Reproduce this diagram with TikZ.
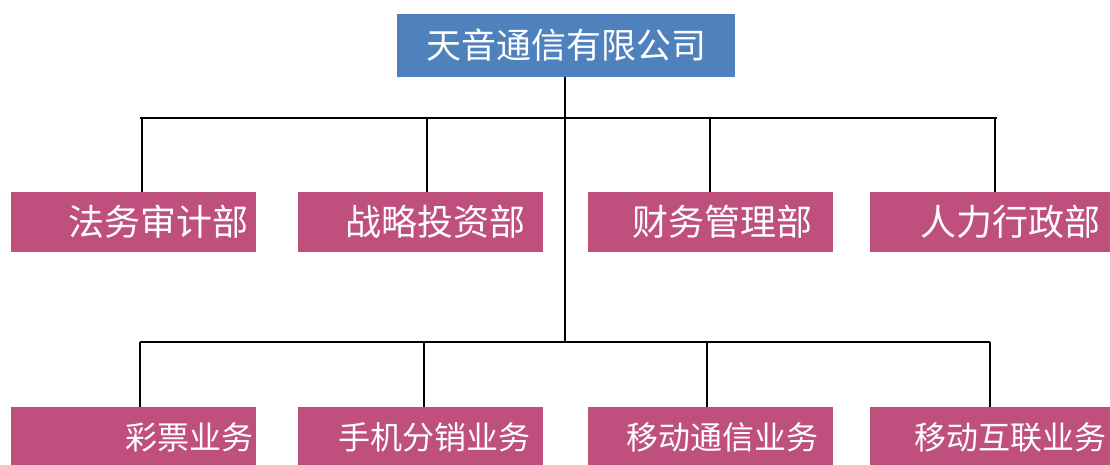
\documentclass[tikz,border=0pt]{standalone}
\usepackage{fontspec}
\newfontfamily\cjk{Noto Sans CJK SC}
\definecolor{boxpink}{RGB}{191,80,126}
\definecolor{topblue}{RGB}{79,129,189}
\begin{document}
\begin{tikzpicture}[x=1pt,y=-1pt,
  conn/.style={draw=black,line width=1.6pt},
  dept/.style={fill=boxpink,text=white,minimum width=245pt,minimum height=60pt,inner sep=0pt,font=\cjk\fontsize{36}{40}\selectfont},
  biz/.style={dept,font=\cjk\fontsize{32}{36}\selectfont},
  head/.style={fill=topblue,text=white,minimum width=338pt,minimum height=63pt,inner sep=0pt,font=\cjk\fontsize{35}{40}\selectfont}]
\useasboundingbox (0,0) rectangle (1110,465);
\clip (0,0) rectangle (1110,465);
% head
\node[head] (top) at (566,45.5) {天音通信有限公司};
% row 1
\node[dept] (d1) at (133,222) {\hspace*{50pt}法务审计部};
\node[dept] (d2) at (420,222) {\hspace*{30pt}战略投资部};
\node[dept] (d3) at (710,222) {\hspace*{24pt}财务管理部};
\node[dept] (d4) at (992,222) {\hspace*{36pt}人力行政部};
% row 2
\node[biz] (b1) at (133,437) {\hspace*{112pt}彩票业务};
\node[biz] (b2) at (420,437) {\hspace*{28pt}手机分销业务};
\node[biz] (b3) at (710,437) {\hspace*{24pt}移动通信业务};
\node[biz] (b4) at (992,437) {\hspace*{36pt}移动互联业务};
% junctions
\coordinate (j1) at (565,118);
\coordinate (j2) at (565,342);
\coordinate (u1) at (142,118);
\coordinate (u2) at (427,118);
\coordinate (u3) at (710,118);
\coordinate (u4) at (995,118);
\coordinate (l1) at (140,342);
\coordinate (l2) at (424,342);
\coordinate (l3) at (707,342);
\coordinate (l4) at (990,342);
% trunk
\draw[conn] (top.south -| j1) -- (j2);
% upper bar
\draw[conn] ([xshift=-2pt]u1) -- ([xshift=2pt]u4);
\foreach \u/\d in {u1/d1,u2/d2,u3/d3,u4/d4}
  \draw[conn] (\u) -- (\u |- \d.north);
% lower bar
\draw[conn] (l1) -- (l4);
\foreach \l/\b in {l1/b1,l2/b2,l3/b3,l4/b4}
  \draw[conn] (\l) -- (\l |- \b.north);
\end{tikzpicture}
\end{document}
